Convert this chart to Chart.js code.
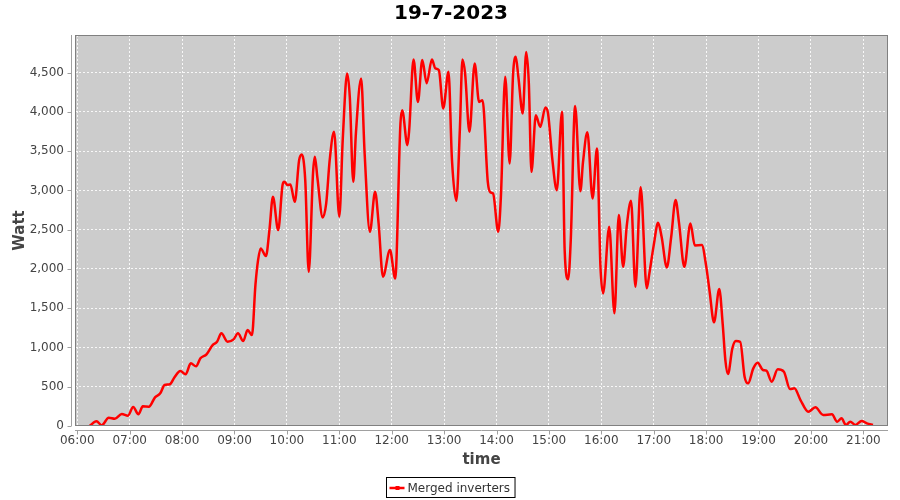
<!DOCTYPE html>
<html>
<head>
<meta charset="utf-8">
<script src="https://cdn.jsdelivr.net/npm/chart.js@4.4.1/dist/chart.umd.min.js"></script>
<style>
  html, body { margin: 0; padding: 0; background: #ffffff; }
  #wrap { width: 900px; height: 500px; }
</style>
</head>
<body>
<div id="wrap"><canvas id="c" width="900" height="500"></canvas></div>
<script>
// ---- data (time in minutes since midnight, power in Watt) ----
const chartTitle = '19-7-2023';
const seriesName = 'Merged inverters';
const xTitle = 'time';
const yTitle = 'Watt';
const times = [374,382,388,396,403,411,418,424,430,435,442,449,455,460,466,471,478,484,490,496,
  501,508,515,520,525,532,539,544,550,555,560,564,567,570,576,580,584,590,595,597,
  601,604,609,614,617,621,625,630,632,635,641,645,649,654,660,664,669,672,676,679,
  685,689,695,701,705,710,718,724,730,732,738,740,745,750,755,760,766,770,774,779,
  785,789,794,798,801,804,809,815,820,824,830,833,836,842,845,850,855,859,862,865,
  870,874,877,880,885,890,896,899,904,909,915,918,922,925,930,936,939,944,950,955,
  959,962,969,975,980,985,989,994,999,1005,1012,1015,1020,1025,1029,1035,1040,1045,1049,1055,
  1062,1067,1075,1080,1084,1089,1095,1099,1102,1105,1110,1114,1119,1124,1128,1134,1139,1145,1149,1155,
  1162,1169,1176,1181,1188,1197,1205,1214,1224,1230,1235,1240,1245,1251,1258,1264,1271];
const watts = [0,60,10,105,93,153,131,242,149,250,246,365,416,522,531,615,700,658,798,760,
  862,913,1031,1073,1180,1073,1104,1180,1082,1222,1158,1800,2113,2262,2164,2495,2919,2495,3068,3110,
  3068,3077,2855,3386,3459,3132,1964,3237,3428,3153,2657,2835,3386,3747,2665,3662,4490,4192,3110,3726,
  4426,3471,2474,2983,2580,1901,2241,1880,3853,4023,3577,3768,4668,4128,4660,4367,4668,4554,4532,4045,
  4511,3386,2868,3768,4668,4490,3747,4617,4128,4150,3110,2975,2962,2474,2919,4447,3344,4490,4702,4447,
  3981,4765,4363,3237,3959,3810,4057,3981,3386,3004,4001,2241,1870,2368,4075,2990,3360,3740,2899,3535,
  2028,1689,2537,1435,2686,2028,2537,2868,1773,3042,1753,1944,2304,2588,2410,2020,2410,2877,2580,2028,
  2580,2300,2304,2040,1710,1320,1744,1290,840,662,989,1082,1073,628,543,734,806,713,704,564,
  722,691,471,480,331,182,238,140,149,55,98,13,55,13,64,34,13];
const xTickMinutes = [360,420,480,540,600,660,720,780,840,900,960,1020,1080,1140,1200,1260];
const yTickValues = [0,500,1000,1500,2000,2500,3000,3500,4000,4500];
const xMin = 357.4, xMax = 1288.2, yMin = 0, yMax = 4980;

const points = times.map((t, i) => ({ x: t, y: watts[i] }));
const fmtTime = m => {
  const h = Math.floor(m / 60), mm = Math.round(m % 60);
  return String(h).padStart(2, '0') + ':' + String(mm).padStart(2, '0');
};

const tickFont = { family: '"DejaVu Sans", sans-serif', size: 12 };
const axisTitleFont = { family: '"DejaVu Sans", sans-serif', size: 15, weight: 'bold' };

const decor = {
  id: 'decor',
  beforeDraw(chart) {
    const { ctx, chartArea: a } = chart;
    ctx.save();
    ctx.fillStyle = '#ffffff';
    ctx.fillRect(0, 0, chart.width, chart.height);
    ctx.fillStyle = '#cccccc';
    ctx.fillRect(a.left, a.top, a.right - a.left, a.bottom - a.top);
    ctx.restore();
  },
  afterDraw(chart) {
    const { ctx, chartArea: a, scales } = chart;
    ctx.save();
    // plot outline
    ctx.strokeStyle = '#808080';
    ctx.lineWidth = 1;
    ctx.strokeRect(Math.round(a.left) + 0.5, Math.round(a.top) + 0.5,
      Math.round(a.right - a.left) - 1, Math.round(a.bottom - a.top) - 1);
    // axis lines (offset from the plot) and tick marks
    ctx.strokeStyle = '#a0a0a0';
    ctx.beginPath();
    const ax = Math.round(a.left) - 4 + 0.5;
    ctx.moveTo(ax, a.top); ctx.lineTo(ax, a.bottom);
    scales.y.ticks.forEach(t => {
      const py = Math.round(scales.y.getPixelForValue(t.value)) + 0.5;
      ctx.moveTo(ax - 4, py); ctx.lineTo(ax, py);
    });
    const ay = Math.round(a.bottom) + 4 + 0.5;
    ctx.moveTo(a.left, ay); ctx.lineTo(a.right, ay);
    scales.x.ticks.forEach(t => {
      const px = Math.round(scales.x.getPixelForValue(t.value)) + 0.5;
      ctx.moveTo(px, ay); ctx.lineTo(px, ay + 4);
    });
    ctx.stroke();
    // title
    ctx.fillStyle = '#000000';
    ctx.font = 'bold 20px "DejaVu Sans", sans-serif';
    ctx.textAlign = 'center';
    ctx.textBaseline = 'middle';
    ctx.fillText(chartTitle, 451, 14);
    // legend
    ctx.font = '12px "DejaVu Sans", sans-serif';
    const tw = ctx.measureText(seriesName).width;
    const bw = tw + 26, bx = Math.round(450 - bw / 2) + 0.5, by = 477.5, bh = 20;
    ctx.strokeStyle = '#000000';
    ctx.lineWidth = 1;
    ctx.strokeRect(bx, by, bw, bh);
    ctx.strokeStyle = '#ff0000';
    ctx.lineWidth = 2.5;
    ctx.beginPath();
    ctx.moveTo(bx + 3, by + 10.5); ctx.lineTo(bx + 18, by + 10.5);
    ctx.stroke();
    ctx.fillStyle = '#ff0000';
    ctx.fillRect(bx + 9, by + 8.5, 4, 4);
    ctx.fillStyle = '#333333';
    ctx.textAlign = 'left';
    ctx.fillText(seriesName, bx + 21, by + 11);
    ctx.restore();
  }
};

new Chart(document.getElementById('c'), {
  type: 'line',
  data: {
    datasets: [{
      label: seriesName,
      data: points,
      borderColor: '#ff0000',
      backgroundColor: '#ff0000',
      borderWidth: 2.5,
      pointRadius: 0,
      cubicInterpolationMode: 'monotone',
      fill: false
    }]
  },
  options: {
    responsive: false,
    devicePixelRatio: 1,
    animation: false,
    layout: { padding: { top: 35, left: 0, right: 12, bottom: 0 } },
    plugins: { legend: { display: false }, title: { display: false }, tooltip: { enabled: false } },
    scales: {
      x: {
        type: 'linear',
        min: xMin, max: xMax,
        afterFit: s => { s.height = 74; },
        afterBuildTicks: s => { s.ticks = xTickMinutes.map(v => ({ value: v })); },
        ticks: { callback: v => fmtTime(v), color: '#444444', font: tickFont, padding: 8, maxRotation: 0, autoSkip: false },
        grid: { color: 'rgba(255,255,255,0.85)', lineWidth: 1, drawTicks: false },
        border: { display: false, dash: [2, 2] },
        title: { display: true, text: xTitle, color: '#444444', font: axisTitleFont, padding: { top: 0, bottom: 31 } }
      },
      y: {
        min: yMin, max: yMax,
        afterFit: s => { s.width = 75; },
        afterBuildTicks: s => { s.ticks = yTickValues.map(v => ({ value: v })); },
        ticks: { callback: v => v.toLocaleString('en-US'), color: '#444444', font: tickFont, padding: 11 },
        grid: { color: 'rgba(255,255,255,0.85)', lineWidth: 1, drawTicks: false },
        border: { display: false, dash: [2, 2] },
        title: { display: true, text: yTitle, color: '#444444', font: axisTitleFont, padding: { top: 11, bottom: 0 } }
      }
    }
  },
  plugins: [decor]
});
</script>
</body>
</html>
